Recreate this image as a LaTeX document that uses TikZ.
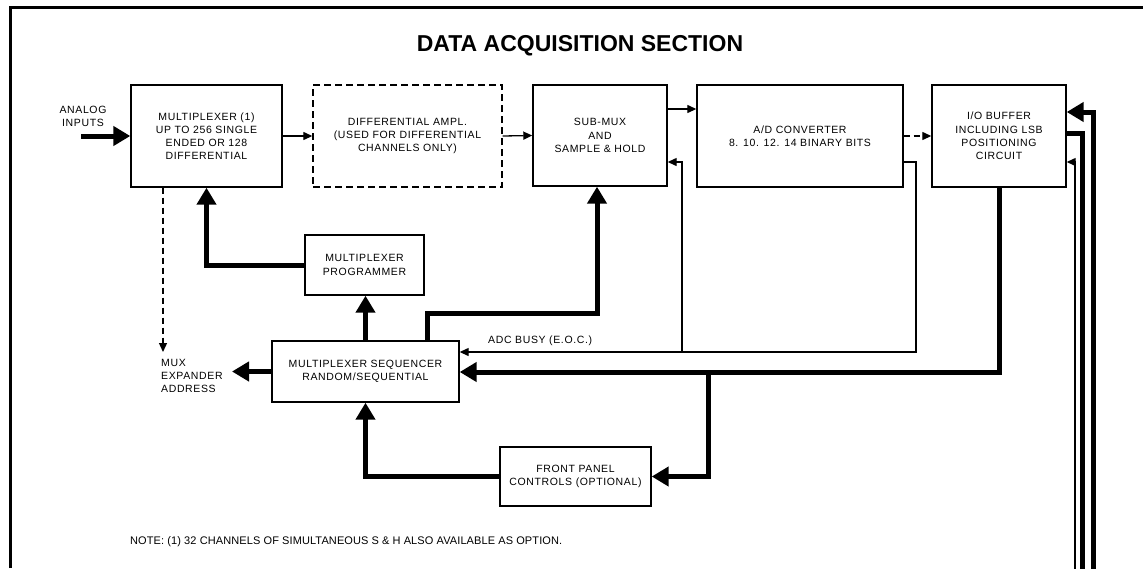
\documentclass[tikz,border=0pt]{standalone}
\usepackage{fontspec}
\setmainfont{Liberation Sans}
\newfontfamily\boxfont[LetterSpace=6]{Liberation Sans}
\newfontfamily\notefont[LetterSpace=1]{Liberation Sans}
\usetikzlibrary{arrows.meta}
\begin{document}
\begin{tikzpicture}[x=1pt,y=-1pt,
  blk/.style={draw, line width=1.4pt, align=center, inner sep=0pt, font=\boxfont\fontsize{10.5}{13.2}\selectfont},
  dblk/.style={blk, dash pattern=on 7pt off 4pt},
  sarrow/.style={line width=1.3pt, -{Triangle[length=9pt,width=8pt]}},
  barrow/.style={line width=5pt, -{Triangle[length=17pt,width=19pt]}},
  bus/.style={line width=5pt},
  dashedline/.style={dash pattern=on 6pt off 4pt},
  lbl/.style={font=\boxfont\fontsize{10.5}{13.2}\selectfont, inner sep=0pt},
  frame/.style={line width=3pt}]
\useasboundingbox (0,0) rectangle (1143,568);
% frame
\coordinate (fBL) at (10,568);
\coordinate (fTL) at (10,7);
\coordinate (fTR) at (1143,7);
\draw[frame] (fBL) -- (fTL) -- (fTR);
% title
\node[font=\bfseries\fontsize{23}{26}\selectfont] (title) at (580,46) {DATA ACQUISITION SECTION};
% blocks
\node[blk, minimum width=151pt, minimum height=102pt] (mux) at (206.5,136) {MULTIPLEXER (1)\\UP TO 256 SINGLE\\ENDED OR 128\\DIFFERENTIAL};
\node[dblk, minimum width=189pt, minimum height=102pt] (diff) at (407.5,136) {DIFFERENTIAL AMPL.\\(USED FOR DIFFERENTIAL\\CHANNELS ONLY)};
\node[blk, minimum width=134pt, minimum height=101pt] (sub) at (600,135.5) {SUB-MUX\\AND\\SAMPLE \& HOLD};
\node[blk, minimum width=206pt, minimum height=102pt] (adc) at (800,136) {A/D CONVERTER\\8. 10. 12. 14 BINARY BITS};
\node[blk, minimum width=134pt, minimum height=102pt] (io) at (999,136) {I/O BUFFER\\INCLUDING LSB\\POSITIONING\\CIRCUIT};
\node[blk, minimum width=119pt, minimum height=60pt] (prog) at (364.5,265) {MULTIPLEXER\\PROGRAMMER};
\node[blk, minimum width=187pt, minimum height=61pt] (seq) at (365.5,371.5) {MULTIPLEXER SEQUENCER\\RANDOM/SEQUENTIAL};
\node[blk, minimum width=151pt, minimum height=59pt] (fp) at (575.5,476.5) {FRONT PANEL\\CONTROLS (OPTIONAL)};
% labels
\node[lbl, align=center] (ain) at (83,116) {ANALOG\\INPUTS};
\node[lbl, align=left, anchor=west] (mea) at (161,376) {MUX\\EXPANDER\\ADDRESS};
\node[lbl, anchor=west] (busy) at (488,341) {ADC BUSY (E.O.C.)};
\node[font=\notefont\fontsize{11}{13}\selectfont, anchor=west, inner sep=0pt] (note) at (130,542) {NOTE: (1) 32 CHANNELS OF SIMULTANEOUS S \& H ALSO AVAILABLE AS OPTION.};
% helper coordinates
\coordinate (ainS) at (81,136);
\coordinate (cAD) at (916,0);
\coordinate (cBr) at (682,0);
\coordinate (yBusy) at (0,352);
\coordinate (yBus) at (0,372);
\coordinate (cFB) at (708,0);
\coordinate (ySub) at (0,162);
\coordinate (ySH) at (0,109);
\coordinate (cSeqOut) at (427,0);
\coordinate (ySeqOut) at (0,313);
\coordinate (cSubIn) at (597,0);
\coordinate (cExp) at (163,0);
\coordinate (xMEA) at (232,0);
\coordinate (xR1) at (1075,0);
\coordinate (xR2) at (1082,0);
\coordinate (xR3) at (1093,0);
\coordinate (yBot) at (0,570);
\coordinate (yIO1) at (0,112);
\coordinate (yIO2) at (0,133);
\coordinate (yIO3) at (0,162);
% connectors
\draw[barrow] (ainS) -- (mux.west);
\draw[sarrow] (mux.east) -- (diff.west);
\draw[sarrow] (diff.east) -- (sub.west);
\draw[sarrow] (sub.east |- ySH) -- (adc.west |- ySH);
\draw[sarrow, dashedline] (adc.east) -- (io.west);
\draw[sarrow] (adc.east |- ySub) -| (cAD |- yBusy) -- (seq.east |- yBusy);
\draw[sarrow] (cBr |- yBusy) -- (cBr |- ySub) -- (sub.east |- ySub);
\draw[barrow] (io.south) |- (seq.east |- yBus);
\draw[barrow] (cFB |- yBus) |- (fp.east);
\draw[barrow] (fp.west) -| (seq.south);
\draw[barrow] (seq.north) -- (seq.north |- prog.south);
\draw[barrow] (cSeqOut |- seq.north) |- (cSubIn |- ySeqOut) -- (cSubIn |- sub.south);
\draw[barrow] (prog.west) -| (mux.south);
\draw[sarrow, dashedline] (cExp |- mux.south) -- (cExp |- yBusy);
\draw[barrow] (seq.west) -- (xMEA |- seq.west);
\draw[sarrow] (xR1 |- yBot) |- (io.east |- yIO3);
\draw[bus] (io.east |- yIO2) -| (xR2 |- yBot);
\draw[barrow] (xR3 |- yBot) |- (io.east |- yIO1);
\end{tikzpicture}
\end{document}
